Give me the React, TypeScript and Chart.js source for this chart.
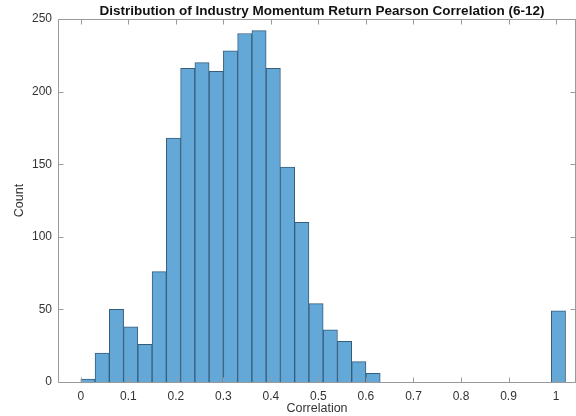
import React, { useEffect, useRef } from "react";
import { Chart, registerables } from "chart.js";

Chart.register(...registerables);

const binStarts = [0, 0.03, 0.06, 0.09, 0.12, 0.15, 0.18, 0.21, 0.24, 0.27, 0.3, 0.33, 0.36, 0.39, 0.42, 0.45, 0.48, 0.51, 0.54, 0.57, 0.6, 0.99];
const counts = [2, 20, 50, 38, 26, 76, 168, 216, 220, 214, 228, 240, 242, 216, 148, 110, 54, 36, 28, 14, 6, 49];
const binWidth = 0.03;
const xTicks = [0, 0.1, 0.2, 0.3, 0.4, 0.5, 0.6, 0.7, 0.8, 0.9, 1];
const yTicks = [0, 50, 100, 150, 200, 250];
const titleText = "Distribution of Industry Momentum Return Pearson Correlation (6-12)";
const xLabel = "Correlation";
const yLabel = "Count";

const FONT = "'Liberation Sans', Arial, Helvetica, sans-serif";

const framePlugin = {
  id: "frame",
  afterDraw(chart: any) {
    const { ctx, chartArea } = chart;
    const xs = chart.scales.x;
    const ys = chart.scales.y;
    ctx.save();
    ctx.strokeStyle = "#9a9a9a";
    ctx.lineWidth = 1;
    const l = Math.round(chartArea.left) + 0.5;
    const r = Math.round(chartArea.right) - 0.5;
    const t = Math.round(chartArea.top) + 0.5;
    const b = Math.round(chartArea.bottom) + 0.5;
    ctx.beginPath();
    ctx.moveTo(l, t);
    ctx.lineTo(r, t);
    ctx.moveTo(l, t);
    ctx.lineTo(l, b);
    ctx.moveTo(l, b);
    ctx.lineTo(r, b);
    ctx.moveTo(r, t);
    ctx.lineTo(r, b);
    const tl = 5;
    xTicks.forEach((v) => {
      const px = Math.round(xs.getPixelForValue(v)) + 0.5;
      ctx.moveTo(px, b);
      ctx.lineTo(px, b - tl);
      ctx.moveTo(px, t);
      ctx.lineTo(px, t + tl);
    });
    yTicks.forEach((v) => {
      const py = Math.round(ys.getPixelForValue(v)) + 0.5;
      ctx.moveTo(l, py);
      ctx.lineTo(l + tl, py);
      ctx.moveTo(r, py);
      ctx.lineTo(r - tl, py);
    });
    ctx.stroke();
    // title
    ctx.fillStyle = "#111";
    ctx.font = `bold 13.5px ${FONT}`;
    ctx.textAlign = "center";
    ctx.textBaseline = "middle";
    ctx.fillText(titleText, 322, 11);
    ctx.restore();
  },
};

export default function App() {
  const ref = useRef<HTMLCanvasElement | null>(null);
  useEffect(() => {
    if (!ref.current) return;
    const data = binStarts.map((s, i) => ({ x: s + binWidth / 2, y: counts[i] }));
    const chart = new Chart(ref.current, {
      type: "bar",
      data: {
        datasets: [
          {
            data: data as any,
            backgroundColor: "#64a8d8",
            borderColor: "#365e7c",
            borderWidth: 1,
            barPercentage: 1,
            categoryPercentage: 1,
            grouped: false,
          } as any,
        ],
      },
      options: {
        animation: false,
        responsive: false,
        maintainAspectRatio: false,
        events: [],
        layout: { padding: { left: 0, right: 0, top: 19, bottom: 0 } },
        plugins: {
          legend: { display: false },
          tooltip: { enabled: false },
          title: { display: false },
        },
        scales: {
          x: {
            type: "linear",
            min: -0.048,
            max: 1.042,
            offset: false,
            afterBuildTicks: (s: any) => {
              s.ticks = xTicks.map((v) => ({ value: v }));
            },
            afterFit: (s: any) => {
              s.height = 34;
            },
            grid: { display: false, drawTicks: false },
            border: { display: false },
            ticks: {
              color: "#333",
              font: { family: FONT, size: 12 },
              padding: 7,
              maxRotation: 0,
              autoSkip: false,
              callback: (v: any) => String(Math.round(Number(v) * 10) / 10),
            },
            title: {
              display: true,
              text: xLabel,
              color: "#333",
              font: { family: FONT, size: 12.5 },
              padding: { top: 0, bottom: 0 },
            },
          },
          y: {
            type: "linear",
            min: 0,
            max: 250,
            afterBuildTicks: (s: any) => {
              s.ticks = yTicks.map((v) => ({ value: v }));
            },
            afterFit: (s: any) => {
              s.width = 58;
            },
            grid: { display: false, drawTicks: false },
            border: { display: false },
            ticks: {
              color: "#333",
              font: { family: FONT, size: 12 },
              padding: 6,
            },
            title: {
              display: true,
              text: yLabel,
              color: "#333",
              font: { family: FONT, size: 12.5 },
              padding: { top: 12, bottom: 0 },
            },
          },
        },
      },
      plugins: [framePlugin],
    });
    return () => chart.destroy();
  }, []);
  return (
    <div style={{ position: "fixed", left: 0, top: 0, width: 576, height: 416, background: "#fff" }}>
      <canvas ref={ref} width={576} height={416} style={{ width: 576, height: 416, display: "block" }} />
    </div>
  );
}
